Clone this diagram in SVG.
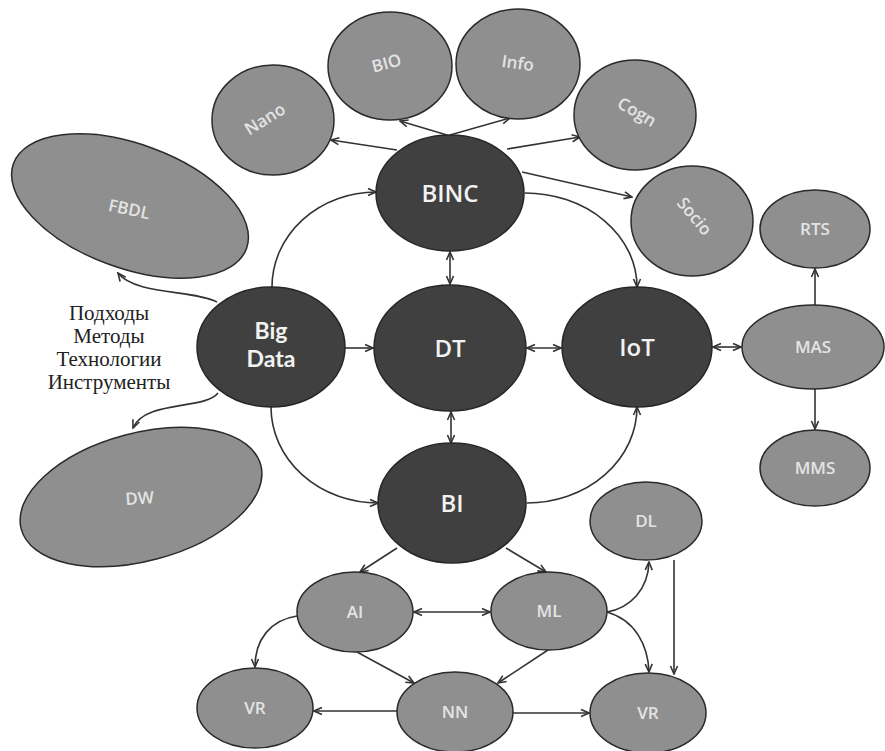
<svg xmlns="http://www.w3.org/2000/svg" width="885" height="751" viewBox="0 0 885 751">
<defs>
<style>
.dk{fill:#404040;stroke:#262626;stroke-width:1.5}
.lt{fill:#8f8f8f;stroke:#2a2a2a;stroke-width:1.5}
.td{font-family:"Open Sans","Noto Sans",sans-serif;font-size:24px;font-weight:600;fill:#f2f2f2;text-anchor:middle}
.tb{font-family:Lato,"Open Sans",sans-serif;font-size:23px;font-weight:700;fill:#f2f2f2;text-anchor:middle}
.tl{font-family:"Open Sans","Noto Sans",sans-serif;font-size:17px;font-weight:600;fill:#e4e4e4;text-anchor:middle}
.ts{font-family:"Liberation Serif","Times New Roman",serif;font-size:21px;fill:#222;text-anchor:middle}
.c{fill:none;stroke:#333;stroke-width:1.6}
.a{marker-end:url(#ah)}
.b{marker-start:url(#ah);marker-end:url(#ah)}
</style>
<marker id="ah" viewBox="0 0 10 10" refX="9" refY="5" markerWidth="10" markerHeight="10" markerUnits="userSpaceOnUse" orient="auto-start-reverse">
<path d="M1,1.5 L9,5 L1,8.5" fill="none" stroke="#333" stroke-width="1.6"/>
</marker>
</defs>

<g id="connectors">
<line class="c a" x1="397" y1="150" x2="331" y2="140"/>
<line class="c a" x1="447" y1="135" x2="400" y2="121"/>
<line class="c a" x1="450" y1="135" x2="510" y2="118"/>
<line class="c a" x1="507" y1="149" x2="580" y2="137"/>
<line class="c a" x1="522" y1="172" x2="632" y2="197"/>
<line class="c b" x1="450" y1="252" x2="450" y2="284"/>
<line class="c a" x1="345" y1="348" x2="373" y2="348"/>
<line class="c b" x1="527" y1="348" x2="561" y2="348"/>
<line class="c b" x1="451" y1="412" x2="451" y2="443"/>
<line class="c b" x1="713" y1="347" x2="741" y2="347"/>
<line class="c a" x1="815" y1="305" x2="815" y2="269"/>
<line class="c a" x1="815" y1="389" x2="815" y2="429"/>
<line class="c a" x1="397" y1="548" x2="360" y2="572"/>
<line class="c a" x1="506" y1="548" x2="546" y2="572"/>
<line class="c b" x1="414" y1="612" x2="490" y2="612"/>
<line class="c a" x1="357" y1="652" x2="414" y2="683"/>
<line class="c a" x1="548" y1="650" x2="498" y2="683"/>
<line class="c a" x1="397" y1="711" x2="314" y2="711"/>
<line class="c a" x1="513" y1="713" x2="589" y2="713"/>
<line class="c a" x1="674" y1="560" x2="674" y2="674"/>
<path class="c a" d="M272,287 A104,95 0 0 1 376,192"/>
<path class="c a" d="M271,407 A107,96 0 0 0 378,503"/>
<path class="c a" d="M525,193 A112,94 0 0 1 637,287"/>
<path class="c a" d="M527,503 A110,96 0 0 0 637,407"/>
<path class="c a" d="M217,302 C195,290 135,295 118,273"/>
<path class="c a" d="M218,393 C205,410 145,400 133,428"/>
<path class="c a" d="M297,616 C270,620 255,640 255,667"/>
<path class="c a" d="M607,612 C630,608 648,590 649,562"/>
<path class="c a" d="M607,612 C635,620 648,645 649,672"/>
</g>

<g id="node-nano"><ellipse class="lt" cx="273" cy="120" rx="61" ry="55"/><text class="tl" transform="translate(268,124) rotate(-32)">Nano</text></g>
<g id="node-bio"><ellipse class="lt" cx="390" cy="66" rx="62" ry="54"/><text class="tl" transform="translate(388,69) rotate(-15)">BIO</text></g>
<g id="node-info"><ellipse class="lt" cx="518" cy="64" rx="62" ry="55"/><text class="tl" transform="translate(517,69) rotate(8)">Info</text></g>
<g id="node-cogn"><ellipse class="lt" cx="635" cy="115" rx="61" ry="55"/><text class="tl" transform="translate(634,117) rotate(30)">Cogn</text></g>
<g id="node-socio"><ellipse class="lt" cx="692" cy="221" rx="61" ry="55"/><text class="tl" transform="translate(690,220) rotate(50)">Socio</text></g>
<g id="node-fbdl"><ellipse class="lt" cx="130" cy="206" rx="124" ry="62" transform="rotate(20 130 206)"/><text class="tl" transform="translate(128,215) rotate(12)">FBDL</text></g>
<g id="node-dw"><ellipse class="lt" cx="141" cy="497" rx="124" ry="64" transform="rotate(-15 141 497)"/><text class="tl" transform="translate(140,504) rotate(-4)">DW</text></g>
<g id="node-binc"><ellipse class="dk" cx="450" cy="193" rx="74" ry="58"/><text class="td" x="450" y="202">BINC</text></g>
<g id="node-bigdata"><ellipse class="dk" cx="271" cy="347" rx="74" ry="60"/><text class="tb" x="271" y="339">Big</text><text class="tb" x="271" y="367">Data</text></g>
<g id="node-dt"><ellipse class="dk" cx="450" cy="348" rx="76" ry="63"/><text class="td" x="450" y="357">DT</text></g>
<g id="node-iot"><ellipse class="dk" cx="637" cy="347" rx="75" ry="60"/><text class="td" x="637" y="356">IoT</text></g>
<g id="node-bi"><ellipse class="dk" cx="452" cy="503" rx="74" ry="60"/><text class="td" x="452" y="512">BI</text></g>
<g id="node-rts"><ellipse class="lt" cx="815" cy="229" rx="55" ry="39"/><text class="tl" x="815" y="235">RTS</text></g>
<g id="node-mas"><ellipse class="lt" cx="813" cy="347" rx="71" ry="42"/><text class="tl" x="813" y="353">MAS</text></g>
<g id="node-mms"><ellipse class="lt" cx="815" cy="468" rx="55" ry="38"/><text class="tl" x="815" y="474">MMS</text></g>
<g id="node-dl"><ellipse class="lt" cx="646" cy="521" rx="56" ry="39"/><text class="tl" x="646" y="527">DL</text></g>
<g id="node-ai"><ellipse class="lt" cx="355" cy="612" rx="58" ry="40"/><text class="tl" x="355" y="618">AI</text></g>
<g id="node-ml"><ellipse class="lt" cx="549" cy="611" rx="58" ry="39"/><text class="tl" x="549" y="617">ML</text></g>
<g id="node-vr1"><ellipse class="lt" cx="255" cy="708" rx="58" ry="40"/><text class="tl" x="255" y="714">VR</text></g>
<g id="node-nn"><ellipse class="lt" cx="455" cy="712" rx="58" ry="40"/><text class="tl" x="455" y="718">NN</text></g>
<g id="node-vr2"><ellipse class="lt" cx="648" cy="713" rx="58" ry="40"/><text class="tl" x="648" y="719">VR</text></g>

<g id="label-approaches">
<text class="ts" x="109" y="320">Подходы</text>
<text class="ts" x="109" y="343">Методы</text>
<text class="ts" x="109" y="366">Технологии</text>
<text class="ts" x="109" y="389">Инструменты</text>
</g>
</svg>
